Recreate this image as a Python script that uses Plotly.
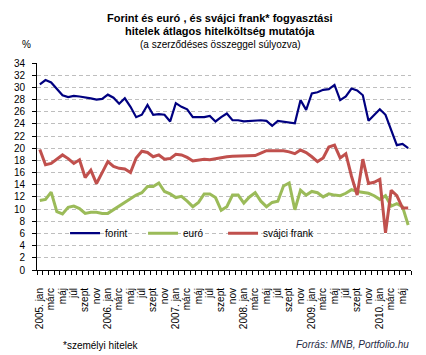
import plotly.graph_objects as go

# ---- data ----
years = ["2005", "2006", "2007", "2008", "2009", "2010"]
month_labels = ["jan", "febr", "márc", "ápr", "máj", "jún", "júl", "aug", "szept", "okt", "nov", "dec"]

forint = [30.5, 31.2, 30.8, 29.8, 28.7, 28.4, 28.6, 28.5, 28.4, 28.2, 28.0, 28.1,
          28.8, 28.3, 27.3, 28.2, 26.8, 25.1, 25.5, 27.1, 25.5, 25.6, 25.5, 24.4,
          27.4, 26.8, 26.4, 25.1, 25.1, 25.1, 25.3, 24.4, 25.1, 25.7, 24.6, 24.6,
          24.4, 24.5, 24.5, 24.6, 24.5, 23.7, 24.5, 24.4, 24.2, 24.1, 27.9, 26.3,
          29.0, 29.2, 29.6, 29.7, 30.4, 27.9, 28.5, 29.8, 29.5, 28.7, 24.5, 25.5,
          26.4, 25.5, 22.9, 20.5, 20.7, 20.0]

euro = [11.4, 11.6, 12.8, 9.6, 9.2, 10.3, 10.5, 10.1, 9.3, 9.5, 9.5, 9.3,
        9.3, 9.9, 10.5, 11.1, 11.7, 12.3, 12.7, 13.7, 13.7, 14.3, 12.9, 12.5,
        11.9, 12.1, 11.3, 10.4, 11.1, 12.5, 12.5, 11.9, 9.8, 10.4, 12.3, 12.3,
        11.0, 12.0, 12.7, 11.3, 10.4, 11.1, 11.3, 13.8, 14.3, 9.9, 13.1, 12.3,
        12.9, 12.7, 12.0, 12.5, 12.3, 12.2, 12.6, 13.2, 12.9, 12.7, 12.6, 12.2,
        11.6, 12.2, 10.5, 10.9, 10.4, 7.4]

frank = [19.8, 17.3, 17.5, 18.2, 18.9, 18.3, 17.5, 18.1, 15.2, 16.4, 14.2, 16.0,
         17.8, 17.0, 16.7, 16.6, 16.0, 18.4, 19.5, 19.3, 18.6, 18.9, 18.2, 18.3,
         19.0, 18.9, 18.5, 17.9, 18.1, 18.2, 18.1, 18.3, 18.5, 18.6, 18.7, 18.7,
         18.7, 18.7, 18.8, 19.2, 19.6, 19.6, 19.6, 19.6, 19.4, 19.1, 19.7, 19.3,
         18.6, 17.8, 18.4, 20.2, 20.5, 18.4, 19.1, 15.4, 12.3, 18.2, 14.2, 14.4,
         14.9, 6.1, 13.1, 12.2, 10.2, 10.2]

series_names = ["forint", "euró", "svájci frank"]
series_colors = ["#000080", "#9BBB59", "#C0504D"]
series_widths = [2.2, 3, 3]
legend_widths = [33, 35, 60]

y_ticks = list(range(0, 35, 2))

# month index positions and tick labels (every second month)
n = len(forint)
x = list(range(n))
tickvals, ticktext = [], []
for i in range(0, n, 2):
    y_i, m_i = divmod(i, 12)
    tickvals.append(i)
    ticktext.append(f"{years[y_i]}. jan" if m_i == 0 else month_labels[m_i])

FONT = "Liberation Sans, Arial, sans-serif"

fig = go.Figure()
for name, vals, col, w, lw in zip(series_names, [forint, euro, frank], series_colors,
                                  series_widths, legend_widths):
    fig.add_trace(go.Scatter(x=x, y=vals, mode="lines", name=name,
                             line=dict(color=col, width=w), legendwidth=lw))

fig.update_layout(
    width=426, height=355,
    margin=dict(l=37, r=15, t=63, b=85),
    paper_bgcolor="white", plot_bgcolor="white",
    font=dict(family=FONT, size=10, color="black"),
    showlegend=True,
    legend=dict(orientation="h", x=0.075, xanchor="left", y=0.178, yanchor="middle",
                bgcolor="rgba(0,0,0,0)", font=dict(size=10), itemwidth=30,
                tracegroupgap=0),
    xaxis=dict(range=[-0.5, n - 0.5], showgrid=False, zeroline=False,
               showline=True, linecolor="black", linewidth=1,
               tickmode="array", tickvals=tickvals, ticktext=ticktext,
               tickangle=-90, ticks="", ticklabelstandoff=13,
               tickfont=dict(size=10), automargin=False,
               minor=dict(tick0=-0.5, dtick=1, ticks="outside", ticklen=4,
                          tickcolor="black", showgrid=False)),
    yaxis=dict(range=[0, 34], tickvals=y_ticks, showgrid=True,
               gridcolor="#BEBEBE", griddash="4px,3px", gridwidth=1,
               zeroline=False, showline=True, linecolor="black", linewidth=1,
               ticks="outside", ticklen=4, tickcolor="black",
               ticklabelstandoff=5, tickfont=dict(size=10), automargin=False),
)

ann = [
    dict(text="<b>Forint és euró , és svájci frank* fogyasztási</b>", x=0.49, y=(270 - 18) / 207, size=11),
    dict(text="<b>hitelek átlagos hitelköltség mutatója</b>", x=0.49, y=(270 - 31) / 207, size=11),
    dict(text="(a szerződéses összeggel súlyozva)", x=0.49, y=(270 - 44) / 207, size=10),
]
for a in ann:
    fig.add_annotation(text=a["text"], xref="paper", yref="paper", x=a["x"], y=a["y"],
                       xanchor="center", yanchor="middle", showarrow=False,
                       font=dict(size=a["size"], family=FONT, color="black"))

fig.add_annotation(text="%", xref="paper", yref="paper", x=(26 - 37) / 374, y=(270 - 44) / 207,
                   xanchor="center", yanchor="middle", showarrow=False,
                   font=dict(size=10, family=FONT, color="black"))
fig.add_annotation(text="*személyi hitelek", xref="paper", yref="paper", x=(61 - 37) / 374,
                   y=(270 - 345) / 207, xanchor="left", yanchor="middle", showarrow=False,
                   font=dict(size=10, family=FONT, color="black"))
fig.add_annotation(text="<i>Forrás: MNB, Portfolio.hu</i>", xref="paper", yref="paper", x=1.0,
                   y=(270 - 344) / 207, xanchor="right", yanchor="middle", showarrow=False,
                   font=dict(size=10, family=FONT, color="#1F2A44"))

fig.write_html("out.html", config={"displayModeBar": False},
               post_script="document.body.style.margin='0';document.body.style.overflow='hidden';")
